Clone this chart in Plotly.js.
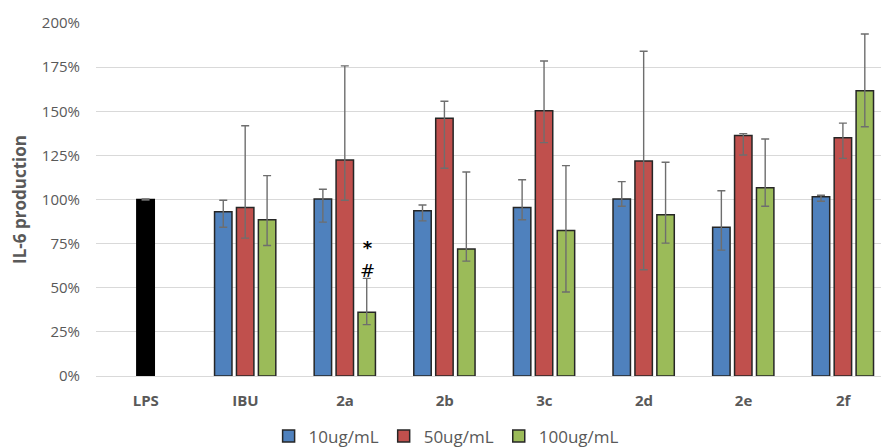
<!DOCTYPE html>
<html>
<head>
<meta charset="utf-8">
<script src="https://cdn.plot.ly/plotly-3.0.1.min.js"></script>
<style>html,body{margin:0;padding:0;background:#fff;}#chart{width:881px;height:447px;}</style>
</head>
<body>
<div id="chart"></div>
<script>
const categories = ['LPS', 'IBU', '2a', '2b', '3c', '2d', '2e', '2f'];
const groupCats = ['IBU', '2a', '2b', '3c', '2d', '2e', '2f'];
const seriesNames = ['10ug/mL', '50ug/mL', '100ug/mL'];

const lpsValue = [100];
const lpsErr = [0.3];

const v10 = [93.0, 100.3, 93.6, 95.4, 100.3, 84.3, 101.6];
const v10Plus = [6.6, 5.5, 3.3, 15.8, 9.8, 20.7, 0.8];
const v10Minus = [8.7, 13.1, 5.7, 6.9, 4.1, 13.0, 2.6];

const v50 = [95.4, 122.4, 146.1, 150.3, 121.8, 136.3, 135.0];
const v50Plus = [46.4, 53.3, 9.6, 28.2, 62.2, 1.0, 8.3];
const v50Minus = [17.3, 22.8, 28.4, 18.1, 61.6, 11.1, 11.7];

const v100 = [88.5, 36.1, 71.9, 82.4, 91.3, 106.6, 161.6];
const v100Plus = [25.0, 19.2, 43.7, 36.8, 29.8, 27.7, 32.2];
const v100Minus = [14.6, 7.0, 6.8, 34.8, 16.0, 10.4, 20.4];

const yTicks = [0, 25, 50, 75, 100, 125, 150, 175, 200];
const sigMark = {cat: '2a', y: 66.5, text: '<b>*</b><br>#'};

const colors = ['#4f81bd', '#c0504d', '#9bbb59'];
const offsets = [-0.31, -0.09, 0.13];
const barW = 0.175;
const errStyle = {color: '#6e6e6e', thickness: 1.4, width: 4};
const font = '"Open Sans", Lato, sans-serif';

const traces = [{
  type: 'bar', x: ['LPS'], y: lpsValue, width: barW, offset: -0.09,
  marker: {color: '#000000', line: {color: '#000000', width: 1.5}},
  error_y: Object.assign({type: 'data', array: lpsErr, visible: true}, errStyle),
  showlegend: false, hoverinfo: 'skip'
}];
const vals = [v10, v50, v100], plus = [v10Plus, v50Plus, v100Plus], minus = [v10Minus, v50Minus, v100Minus];
for (let i = 0; i < 3; i++) {
  traces.push({
    type: 'bar', name: seriesNames[i], x: groupCats, y: vals[i], width: barW, offset: offsets[i],
    marker: {color: colors[i], line: {color: '#262626', width: 1.5}},
    error_y: Object.assign({type: 'data', symmetric: false, array: plus[i], arrayminus: minus[i], visible: true}, errStyle)
  });
}

const layout = {
  width: 881, height: 447,
  margin: {l: 95.5, r: 0, t: 22.7, b: 70.5, autoexpand: false},
  paper_bgcolor: '#ffffff', plot_bgcolor: '#ffffff',
  barmode: 'overlay',
  font: {family: font, color: '#595959'},
  xaxis: {
    type: 'category', categoryorder: 'array', categoryarray: categories,
    range: [-0.5, 7.38], showgrid: false, zeroline: false, showline: false, ticks: '',
    ticklabelstandoff: 14,
    tickfont: {family: font, size: 15, color: '#595959', weight: 'bold'}
  },
  yaxis: {
    range: [0, 200], tickvals: yTicks, ticktext: yTicks.map(v => v + '%'),
    showgrid: true, gridcolor: '#d9d9d9', gridwidth: 1,
    zeroline: true, zerolinecolor: '#d9d9d9', zerolinewidth: 1, showline: false, ticks: '',
    ticklabelstandoff: 15,
    tickfont: {family: font, size: 15, color: '#595959'},
    title: {text: 'IL-6 production', font: {family: font, size: 17, color: '#595959', weight: 'bold'}, standoff: 10}
  },
  legend: {
    orientation: 'h', x: 0.446, xanchor: 'center', y: -0.171, yanchor: 'middle',
    font: {family: font, size: 17, color: '#595959'}, itemwidth: 30, traceorder: 'normal'
  },
  annotations: [{
    x: sigMark.cat, y: sigMark.y, xref: 'x', yref: 'y', xshift: 22, text: sigMark.text, showarrow: false,
    font: {family: '"DejaVu Sans", sans-serif', size: 18, color: '#000000'}
  }]
};

Plotly.newPlot('chart', traces, layout, {displayModeBar: false, staticPlot: true});
</script>
</body>
</html>
